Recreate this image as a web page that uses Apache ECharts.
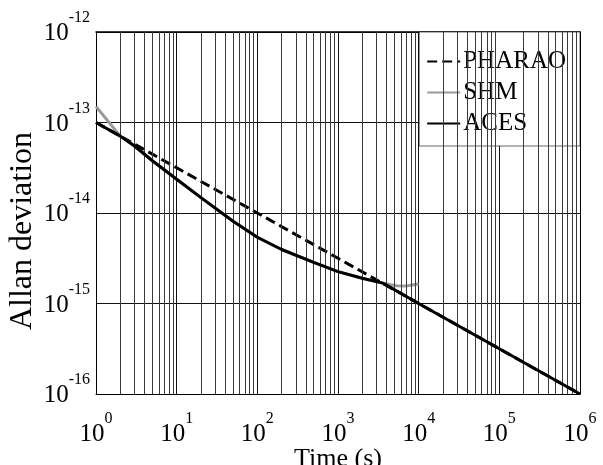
<!DOCTYPE html>
<html>
<head>
<meta charset="utf-8">
<script src="https://cdn.jsdelivr.net/npm/echarts@6/dist/echarts.min.js"></script>
<style>
  html, body { margin: 0; padding: 0; background: #fff; }
  #chart { width: 603px; height: 465px; }
</style>
</head>
<body>
<div id="chart"></div>
<script>
// Averaging time (s) and Allan deviation for each clock
const pharaoTau = [1, 10, 100, 1000, 10000, 100000, 1000000];
const pharaoDev = [1.0e-13, 3.16e-14, 1.0e-14, 3.16e-15, 1.0e-15, 3.16e-16, 1.0e-16];

const shmTau = [1, 2, 3, 5, 10, 20, 50, 100, 200, 500, 1000, 2000, 3000, 3600, 4500, 5300, 7000, 10000];
const shmDev = [1.5e-13, 7.07e-14, 5.5e-14, 3.78e-14, 2.36e-14, 1.48e-14, 8.1e-15, 5.4e-15, 3.95e-15, 2.85e-15, 2.25e-15, 1.9e-15, 1.74e-15, 1.68e-15, 1.61e-15, 1.57e-15, 1.56e-15, 1.64e-15];

const acesTau = [1, 2, 3, 5, 10, 20, 50, 100, 200, 500, 1000, 2000, 3600, 10000, 100000, 1000000];
const acesDev = [1.0e-13, 7.07e-14, 5.5e-14, 3.78e-14, 2.36e-14, 1.48e-14, 8.1e-15, 5.4e-15, 3.95e-15, 2.85e-15, 2.25e-15, 1.9e-15, 1.68e-15, 1.0e-15, 3.16e-16, 1.0e-16];

// Decade ranges of the axes (powers of ten)
const xDecades = [0, 1, 2, 3, 4, 5, 6];
const yDecades = [-16, -15, -14, -13, -12];

const FONT = "'Liberation Serif', 'Times New Roman', serif";

function pairs(xs, ys) { return xs.map((x, i) => [x, ys[i]]); }

// Intermediate log grid lines (2..9 within each decade)
const minorX = [];
for (let d = 0; d < xDecades.length - 1; d++) {
  for (let k = 2; k <= 9; k++) minorX.push({ xAxis: k * Math.pow(10, xDecades[d]) });
}
const minorY = [];
for (let d = 0; d < yDecades.length - 1; d++) {
  for (let k = 2; k <= 9; k++) minorY.push({ yAxis: k * Math.pow(10, yDecades[d]) });
}

// "10" with a raised exponent
function powLabel(v) {
  const e = Math.round(Math.log10(v));
  return '{b|10}{s|' + e + '}';
}
const labelRich = {
  b: { fontFamily: FONT, fontSize: 25, color: '#000', lineHeight: 36, verticalAlign: 'bottom' },
  s: { fontFamily: FONT, fontSize: 16, color: '#000', lineHeight: 16, verticalAlign: 'top' }
};

const chart = echarts.init(document.getElementById('chart'), null, { renderer: 'canvas' });
chart.setOption({
  animation: false,
  backgroundColor: '#fff',
  textStyle: { fontFamily: FONT, color: '#000' },
  grid: { left: 96, right: 23, top: 32, bottom: 71, containLabel: false, outerBoundsMode: 'none' },
  legend: {
    data: ['PHARAO', 'SHM', 'ACES'],
    right: 23, top: 32,
    orient: 'vertical',
    backgroundColor: '#fff',
    borderColor: '#000', borderWidth: 0.6,
    padding: [17, 14, 10, 7],
    itemGap: 6,
    itemWidth: 33, itemHeight: 14,
    itemStyle: { opacity: 0 },
    textStyle: { fontFamily: FONT, fontSize: 25, color: '#000', padding: [0, 0, 0, -2] }
  },
  xAxis: [{
    type: 'log', logBase: 10, min: 1, max: 1e6, splitNumber: 6,
    name: 'Time (s)', nameLocation: 'middle', nameGap: 52, nameMoveOverlap: false,
    nameTextStyle: { fontFamily: FONT, fontSize: 26, color: '#000' },
    axisLine: { show: true, lineStyle: { color: '#000', width: 1 } },
    axisTick: { show: false },
    axisLabel: { margin: 17, formatter: powLabel, rich: labelRich },
    splitLine: { show: true, lineStyle: { color: '#111', width: 1 } }
  }, {
    type: 'log', logBase: 10, min: 1, max: 1e6, position: 'top',
    axisLine: { show: true, lineStyle: { color: '#000', width: 1.5 } },
    axisTick: { show: false }, axisLabel: { show: false }, splitLine: { show: false }
  }],
  yAxis: [{
    type: 'log', logBase: 10, min: 1e-16, max: 1e-12, splitNumber: 4,
    name: 'Allan deviation', nameLocation: 'middle', nameGap: 57, nameMoveOverlap: false,
    nameTextStyle: { fontFamily: FONT, fontSize: 32, color: '#000', padding: [0, 36, 0, 0] },
    axisLine: { show: true, lineStyle: { color: '#000', width: 1 } },
    axisTick: { show: false },
    axisLabel: { margin: 6, formatter: powLabel, rich: labelRich, padding: [0, 0, 8, 0] },
    splitLine: { show: true, lineStyle: { color: '#111', width: 1 } }
  }, {
    type: 'log', logBase: 10, min: 1e-16, max: 1e-12, position: 'right',
    axisLine: { show: true, lineStyle: { color: '#000', width: 1 } },
    axisTick: { show: false }, axisLabel: { show: false }, splitLine: { show: false }
  }],
  series: [{
    name: 'grid-minor', type: 'line', data: [], silent: true, z: 1,
    markLine: {
      silent: true, symbol: ['none', 'none'], animation: false,
      label: { show: false },
      lineStyle: { color: '#3a3a3a', width: 1, type: 'solid' },
      emphasis: { disabled: true },
      data: minorX.concat(minorY)
    }
  }, {
    name: 'SHM', type: 'line', data: pairs(shmTau, shmDev), showSymbol: false, symbol: 'none', z: 3,
    lineStyle: { color: '#9a9a9a', width: 3 }, itemStyle: { color: '#9a9a9a' }
  }, {
    name: 'PHARAO', type: 'line', data: pairs(pharaoTau, pharaoDev), showSymbol: false, symbol: 'none', z: 4,
    lineStyle: { color: '#000', width: 3, type: [10, 5] }, itemStyle: { color: '#000' }
  }, {
    name: 'ACES', type: 'line', data: pairs(acesTau, acesDev), showSymbol: false, symbol: 'none', z: 5,
    lineStyle: { color: '#000', width: 3 }, itemStyle: { color: '#000' }
  }]
});
</script>
</body>
</html>
